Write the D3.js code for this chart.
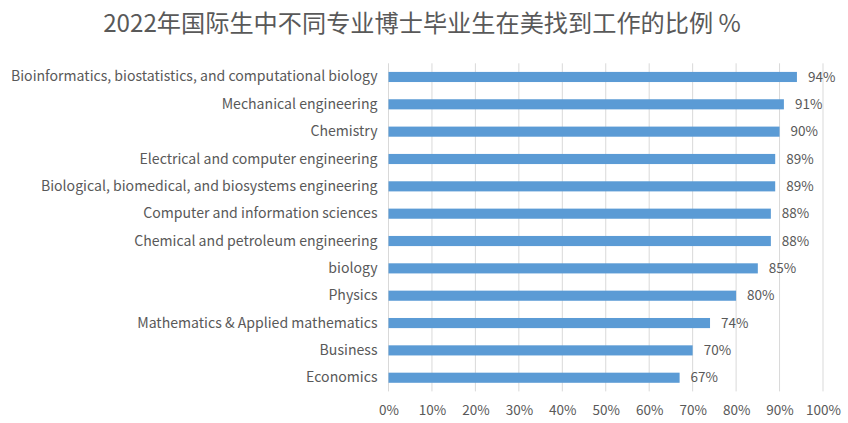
<!DOCTYPE html>
<meta charset="utf-8">
<style>
  body { margin: 0; background: #fff; }
  text { font-family: "Noto Sans CJK SC", "Noto Sans", sans-serif; fill: #595959; }
</style>
<body>
<script src="https://d3js.org/d3.v7.min.js"></script>
<script>

var width = 848,
    height = 423;

var title = "2022年国际生中不同专业博士毕业生在美找到工作的比例 %";

var majors = [
  "Bioinformatics, biostatistics, and computational biology",
  "Mechanical engineering",
  "Chemistry",
  "Electrical and computer engineering",
  "Biological, biomedical, and biosystems engineering",
  "Computer and information sciences",
  "Chemical and petroleum engineering",
  "biology",
  "Physics",
  "Mathematics & Applied mathematics",
  "Business",
  "Economics"
];

var shares = [94, 91, 90, 89, 89, 88, 88, 85, 80, 74, 70, 67];

var ticks = [0, 10, 20, 30, 40, 50, 60, 70, 80, 90, 100];

var margin = {top: 63.3, right: 25, bottom: 31.6, left: 388.5};

var x = d3.scaleLinear()
    .domain([0, 100])
    .range([margin.left, 823]);

var y = d3.scaleBand()
    .domain(majors)
    .range([margin.top, height - margin.bottom])
    .paddingInner(0.63)
    .paddingOuter(0.315);

var svg = d3.select("body").append("svg")
    .attr("width", width)
    .attr("height", height);

svg.append("text")
    .attr("x", 422)
    .attr("y", 32)
    .attr("text-anchor", "middle")
    .style("font-size", "24.2px")
    .text(title);

// vertical gridlines
svg.append("g")
  .selectAll("line")
  .data(ticks)
  .enter().append("line")
    .attr("x1", d => x(d))
    .attr("x2", d => x(d))
    .attr("y1", margin.top)
    .attr("y2", height - margin.bottom)
    .attr("stroke", "#d9d9d9")
    .attr("stroke-width", 1);

// x axis labels
var xAxis = d3.axisBottom(x)
    .tickValues(ticks)
    .tickSize(0)
    .tickPadding(14)
    .tickFormat(d => d + "%");

svg.append("g")
    .attr("transform", "translate(0," + (height - margin.bottom) + ")")
    .call(xAxis)
    .call(g => g.select(".domain").remove())
    .selectAll("text")
    .style("font-size", "13.5px")
    .attr("fill", "#595959");

// y axis labels
var yAxis = d3.axisLeft(y)
    .tickSize(0)
    .tickPadding(11);

svg.append("g")
    .attr("transform", "translate(" + margin.left + ",0)")
    .call(yAxis)
    .call(g => g.select(".domain").remove())
    .selectAll("text")
    .style("font-size", "14.1px")
    .attr("fill", "#595959");

svg.append("g")
  .selectAll("rect")
  .data(majors)
  .enter().append("rect")
    .attr("x", x(0))
    .attr("y", d => y(d))
    .attr("width", (d, i) => x(shares[i]) - x(0))
    .attr("height", y.bandwidth())
    .attr("fill", "#5b9bd5");

svg.append("g")
  .selectAll("text")
  .data(majors)
  .enter().append("text")
    .attr("x", (d, i) => x(shares[i]) + 11)
    .attr("y", d => y(d) + y.bandwidth() / 2)
    .attr("dy", "0.35em")
    .style("font-size", "13.5px")
    .text((d, i) => shares[i] + "%");

</script>
